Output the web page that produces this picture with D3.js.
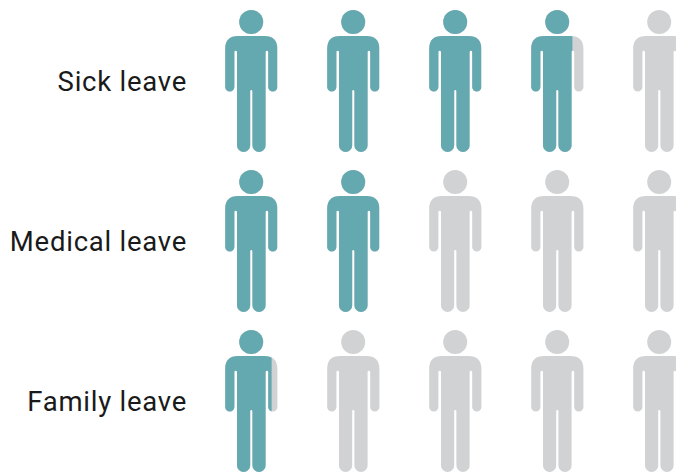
<!DOCTYPE html>
<html>
<head>
<meta charset="utf-8">
<script src="https://cdn.jsdelivr.net/npm/d3@7"></script>
<style>
  html, body { margin: 0; padding: 0; background: #fff; overflow: hidden; }
  text { font-family: Roboto, sans-serif; font-size: 27.5px; fill: #1a1a1a; letter-spacing: 0.75px; }
</style>
</head>
<body>
<div id="chart"></div>
<script>
// leave taken, counted in whole people
var categories = ["Sick leave", "Medical leave", "Family leave"];
var values = [3.79, 2, 0.89];
var people = [0, 1, 2, 3, 4];

var width = 676;
var height = 472;
var teal = "#64a9b0";
var grey = "#d0d2d3";

// one person, centred on x = 0, top of the head on y = 0
var bodyPath = "M-13 26H13Q26.2 26 26.2 39V77a4.6 4.6 0 0 1-9.2 0V42a1.3 1.3 0 0 0-2.6 0V135.4" +
               "a6.6 6.6 0 0 1-13.2 0V81a1.1 1.1 0 0 0-2.2 0V135.4a6.6 6.6 0 0 1-13.2 0V42" +
               "a1.3 1.3 0 0 0-2.6 0V77a4.6 4.6 0 0 1-9.2 0V39Q-26.2 26-13 26Z";
var headRadius = 12;

var x = d3.scalePoint().domain(people).range([251.2, 659.2]);
var y = d3.scalePoint().domain(categories).range([10, 330]);
var fillWidth = d3.scaleLinear().domain([0, 1]).range([0, 52.4]);

var svg = d3.select("#chart")
            .append("svg")
            .attr("width", width)
            .attr("height", height)
            .style("display", "block");

var defs = svg.append("defs");

function drawPerson(g, color) {
    g.append("circle")
     .attr("cx", 0)
     .attr("cy", headRadius)
     .attr("r", headRadius)
     .attr("fill", color);
    g.append("path")
     .attr("d", bodyPath)
     .attr("fill", color);
}

categories.forEach(function(cat, r) {
    var row = svg.append("g").attr("transform", "translate(0," + y(cat) + ")");

    row.append("text")
       .attr("x", 187)
       .attr("y", 81)
       .attr("text-anchor", "end")
       .text(cat);

    people.forEach(function(p) {
        var share = Math.max(0, Math.min(1, values[r] - p));
        var id = "clip-" + r + "-" + p;

        defs.append("clipPath").attr("id", id)
            .append("rect")
            .attr("x", -26.2)
            .attr("y", -1)
            .attr("width", fillWidth(share))
            .attr("height", 145);

        var g = row.append("g").attr("transform", "translate(" + x(p) + ",0)");
        drawPerson(g, grey);
        drawPerson(g.append("g").attr("clip-path", "url(#" + id + ")"), teal);
    });
});
</script>
</body>
</html>
